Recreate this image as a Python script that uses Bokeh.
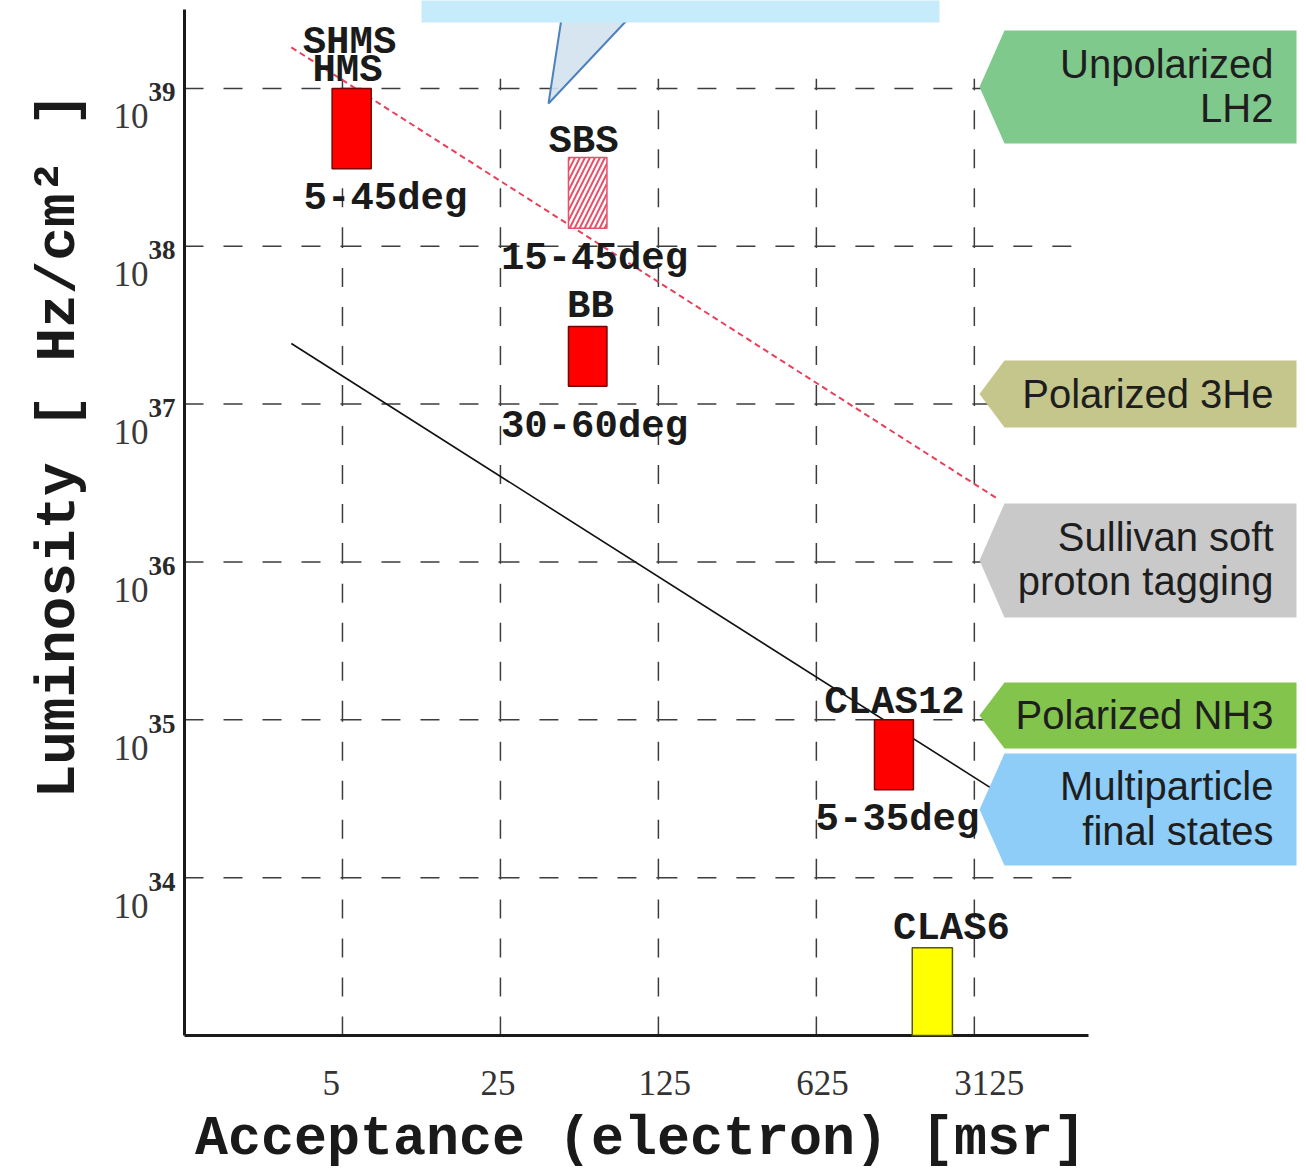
import math
from bokeh.plotting import figure
from bokeh.models import Range1d
from bokeh.core.properties import value
from bokeh.embed import file_html
from bokeh.resources import INLINE

# ---------------- data ----------------
detectors = ["SHMS/HMS", "SBS", "BB", "CLAS12", "CLAS6"]
acc_lo = [4.5, 50.0, 50.0, 1130.0, 1660.0]        # msr
acc_hi = [6.7, 74.0, 74.0, 1680.0, 2500.0]
lum_lo = [3.1e38, 1.3e38, 1.3e37, 3.6e34, 1.0e33]  # Hz/cm^2
lum_hi = [1.0e39, 3.65e38, 3.1e37, 1.0e35, 3.6e33]

limit_acc = [2.97, 3950.0]          # red dashed line
limit_lum = [1.82e39, 2.52e36]
trend_acc = [2.97, 3680.0]          # black line
trend_lum = [2.42e37, 3.72e34]

x_ticks = [5, 25, 125, 625, 3125]
x_tick_labels = ["5", "25", "125", "625", "3125"]
y_exponents = [34, 35, 36, 37, 38, 39]

det_labels = ["SHMS", "HMS", "5-45deg", "SBS", "15-45deg", "BB", "30-60deg",
              "CLAS12", "5-35deg", "CLAS6"]

tag_lines = [["Unpolarized", "LH2"], ["Polarized 3He"],
             ["Sullivan soft", "proton tagging"], ["Polarized NH3"],
             ["Multiparticle", "final states"]]

x_title = "Acceptance (electron) [msr]"
y_title = "Luminosity [ Hz/cm\u00b2 ]"

# ---------------- layout / styles ----------------
W, H = 1304, 1172
X0, X1 = 1.0, 1.0e4             # axis extent (data)
Y0, Y1 = 1.0e33, 10 ** 39.5
A_LEFT, A_RIGHT, A_TOP, A_BOT = 184, 1088, 9, 1035   # axis box in pixels
GRID_X_END = 8500.0
GRID_Y_END = 1.15e39


def px_to_x(px):
    a, b = math.log10(X0), math.log10(X1)
    return 10 ** (a + (px - A_LEFT) / (A_RIGHT - A_LEFT) * (b - a))


def py_to_y(py):
    a, b = math.log10(Y0), math.log10(Y1)
    return 10 ** (b - (py - A_TOP) / (A_BOT - A_TOP) * (b - a))


def y_to_py(y):
    a, b = math.log10(Y0), math.log10(Y1)
    return A_TOP + (b - math.log10(y)) / (b - a) * (A_BOT - A_TOP)


p = figure(width=W, height=H, x_axis_type="log", y_axis_type="log",
           x_range=Range1d(px_to_x(0), px_to_x(W)),
           y_range=Range1d(py_to_y(H), py_to_y(0)),
           x_axis_location=None, y_axis_location=None,
           output_backend="svg", toolbar_location=None, min_border=0)
p.grid.visible = False
p.outline_line_color = None
p.background_fill_color = "white"
p.border_fill_color = "white"

# dashed grid, split at each crossing so every dash starts at a grid node
hx0, hx1, hy = [], [], []
xb = [X0] + x_ticks + [GRID_X_END]
for e in y_exponents:
    for a, b in zip(xb[:-1], xb[1:]):
        hx0.append(a); hx1.append(b); hy.append(10.0 ** e)
p.segment(x0=hx0, y0=hy, x1=hx1, y1=hy, line_color="#3c3c3c",
          line_width=1.5, line_dash="19 20")
vy0, vy1, vx = [], [], []
yb = [Y0] + [10.0 ** e for e in y_exponents] + [GRID_Y_END]
for t in x_ticks:
    for a, b in zip(yb[:-1], yb[1:]):
        vy0.append(a); vy1.append(b); vx.append(t)
p.segment(x0=vx, y0=vy0, x1=vx, y1=vy1, line_color="#3c3c3c",
          line_width=1.5, line_dash="19 20")

# axis lines
p.segment(x0=[X0, X0], y0=[Y0, Y0], x1=[X1, X0], y1=[Y0, Y1],
          line_color="#1a1a1a", line_width=3)

# lines
p.line(limit_acc, limit_lum, line_color="#e8405a", line_width=2, line_dash="6 4")
p.line(trend_acc, trend_lum, line_color="#111111", line_width=1.6)

# boxes
solid = [0, 2, 3, 4]
solid_fill = ["#ff0000", "#ff0000", "#ff0000", "#ffff00"]
solid_line = ["#7a0000", "#7a0000", "#7a0000", "#5a5a00"]
p.quad(left=[acc_lo[i] for i in solid], right=[acc_hi[i] for i in solid],
       bottom=[lum_lo[i] for i in solid], top=[lum_hi[i] for i in solid],
       fill_color=solid_fill, line_color=solid_line, line_width=1.5)
p.quad(left=[acc_lo[1]], right=[acc_hi[1]], bottom=[lum_lo[1]], top=[lum_hi[1]],
       fill_color="white", line_color="#e8506a", line_width=1.5,
       hatch_pattern="/", hatch_color="#e8506a", hatch_scale=10, hatch_weight=2)

# callout at top
p.patch([px_to_x(v) for v in (561, 548, 628)], [py_to_y(v) for v in (18, 103, 18)],
        fill_color="#d3e2f0", fill_alpha=0.9, line_color="#4f81bd", line_width=2)
p.patch([px_to_x(v) for v in (421, 939, 939, 421)],
        [py_to_y(v) for v in (-20, -20, 22, 22)],
        fill_color="#c6ebfb", line_color=None)

# side tags
tag_fill = ["#80c98c", "#c5c68b", "#c9c9c9", "#83c44c", "#8ecdf7"]
tag_top = [30, 360, 503, 682, 753]
tag_bot = [143, 427, 617, 748, 865]
tag_base = [[63, 107], [393], [536, 580], [714], [785, 830]]
txs, tys = [], []
for t, b in zip(tag_top, tag_bot):
    m = (t + b) / 2
    txs.append([px_to_x(v) for v in (979, 1004, 1296, 1296, 1004)])
    tys.append([py_to_y(v) for v in (m, t, t, b, b)])
p.patches(txs, tys, fill_color=tag_fill, line_color=None)
tag_text, tag_ty = [], []
for lines, bases in zip(tag_lines, tag_base):
    for s, bl in zip(lines, bases):
        tag_text.append(s); tag_ty.append(py_to_y(bl))
p.text(x=[px_to_x(1273)] * len(tag_text), y=tag_ty, text=tag_text,
       text_align="right", text_baseline="alphabetic",
       text_font=value("Liberation Sans"), text_font_size="40px",
       text_color="#1e1e1e")

# detector labels
lab_px = [349, 347, 385, 583, 594, 590, 594, 894, 897, 951]
lab_py = [42, 70, 198, 141, 258, 306, 426, 702, 819, 928]
p.text(x=[px_to_x(v) for v in lab_px], y=[py_to_y(v) for v in lab_py],
       text=det_labels, text_font=value("Liberation Mono"),
       text_font_style="bold", text_font_size="39px", text_align="center",
       text_baseline="alphabetic", text_color="#1a1a1a")

# x tick labels
p.text(x=x_ticks, y=[py_to_y(1082)] * len(x_ticks), text=x_tick_labels,
       x_offset=-20, text_align="left", text_baseline="alphabetic",
       text_font=value("Liberation Serif"), text_font_size="35px",
       text_color="#333333")

# y tick labels 10^e
g = [y_to_py(10.0 ** e) for e in y_exponents]
p.text(x=[px_to_x(148)] * len(g), y=[py_to_y(v + 28) for v in g],
       text=["10"] * len(g), text_align="right", text_baseline="alphabetic",
       text_font=value("Liberation Serif"), text_font_size="35px",
       text_color="#3a3a3a")
p.text(x=[px_to_x(175)] * len(g), y=[py_to_y(v + 4) for v in g],
       text=[str(e) for e in y_exponents], text_align="right",
       text_baseline="alphabetic", text_font=value("Liberation Serif"),
       text_font_style="bold", text_font_size="27px", text_color="#2a2a2a")

# axis titles
p.text(x=[px_to_x(640)], y=[py_to_y(1139)], text=[x_title],
       text_align="center", text_baseline="alphabetic",
       text_font=value("Liberation Mono"), text_font_style="bold",
       text_font_size="55px", text_color="#1a1a1a")
p.text(x=[px_to_x(58)], y=[py_to_y(445)], text=[y_title], angle=math.pi / 2,
       text_align="center", text_baseline="alphabetic",
       text_font=value("Liberation Mono"), text_font_style="bold",
       text_font_size="56px", text_color="#1a1a1a")

open("out.html", "w").write(file_html(p, INLINE))
